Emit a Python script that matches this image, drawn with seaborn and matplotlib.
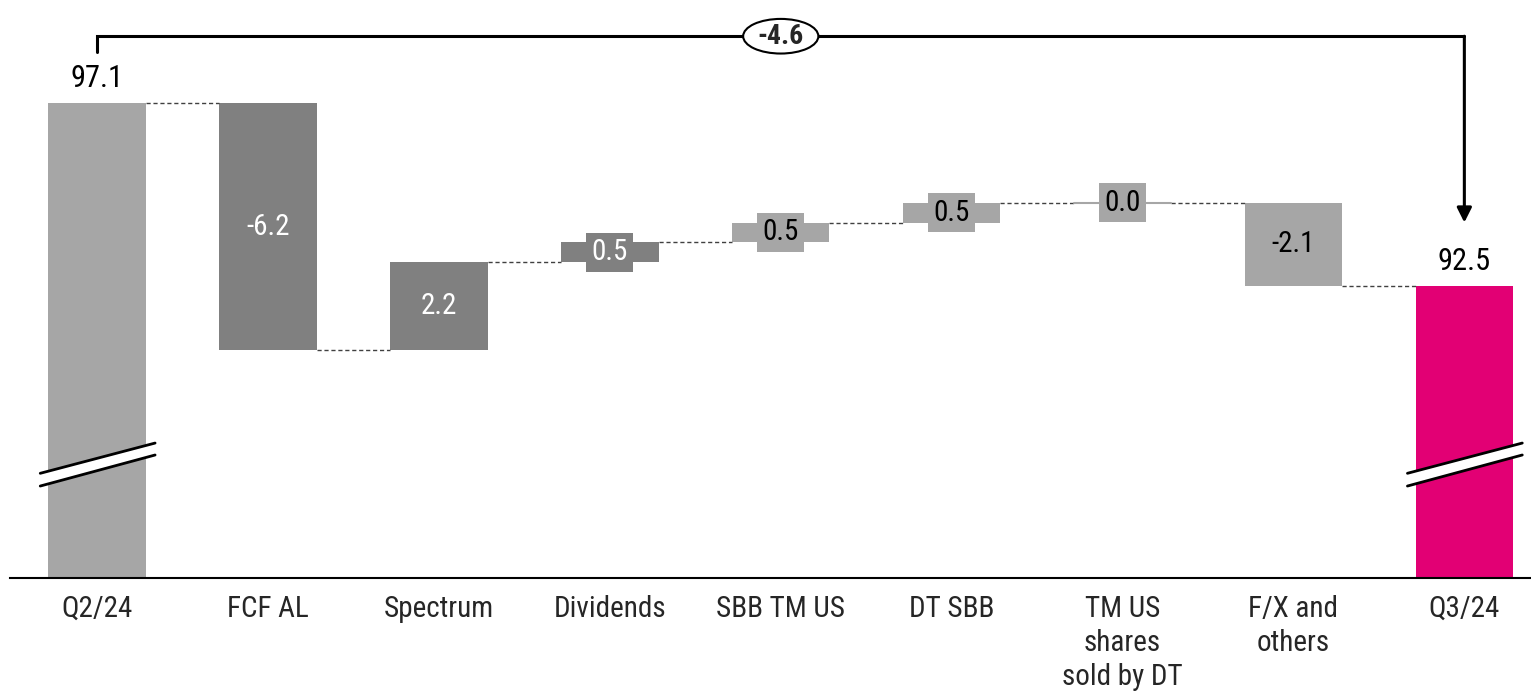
import numpy as np
import matplotlib
matplotlib.use("Agg")
import matplotlib.pyplot as plt
from matplotlib.patches import Ellipse, Polygon
import seaborn as sns

# net debt bridge, EUR bn
categories = ["Q2/24", "FCF AL", "Spectrum", "Dividends", "SBB TM US", "DT SBB",
              "TM US\nshares\nsold by DT", "F/X and\nothers", "Q3/24"]
start_value = 97.1
changes = [-6.2, 2.2, 0.5, 0.5, 0.5, 0.0, -2.1]
end_value = 92.5
total_change = -4.6

LIGHT = "#a6a6a6"
DARK = "#808080"
MAGENTA = "#e20074"
bar_colors = [LIGHT, DARK, DARK, DARK, LIGHT, LIGHT, LIGHT, LIGHT, MAGENTA]
text_colors = ["white", "white", "white", "black", "black", "black", "black"]

sns.set_style("white")
plt.rcParams["font.family"] = ["Roboto Condensed", "Roboto", "DejaVu Sans"]

# build floating bars
levels = start_value + np.cumsum(changes)
prev = np.concatenate([[start_value], levels[:-1]])
bottoms = [0.0] + list(np.minimum(prev, levels)) + [0.0]
heights = [start_value] + list(np.abs(changes)) + [end_value]

fig = plt.figure(figsize=(15.31, 6.94), dpi=100)
ax = fig.add_axes([10 / 1531, 116 / 694, 1521 / 1531, 578 / 694])

w = 0.57
sns.barplot(x=categories, y=heights, bottom=bottoms, color=LIGHT, width=w,
            saturation=1, ax=ax)
for patch, c in zip(ax.patches, bar_colors):
    patch.set_facecolor(c)
    patch.set_edgecolor("none")

ax.set_xlim(-0.51, 8.39)
ax.set_ylim(85.17, 99.69)

# connectors
all_levels = [start_value] + list(levels)
for i, lv in enumerate(all_levels):
    ax.plot([i + w / 2, i + 1 - w / 2], [lv, lv], color="#404040", lw=1,
            ls=(0, (3, 2)), zorder=1)
# zero-height bar
for i, c in enumerate(changes, start=1):
    if c == 0:
        ax.plot([i - w / 2, i + w / 2], [levels[i - 1]] * 2, color=LIGHT, lw=1.5, zorder=2)

# labels on change bars
for i, (c, p, lv, tc) in enumerate(zip(changes, prev, levels, text_colors), start=1):
    ax.text(i, (p + lv) / 2, f"{c:.1f}", ha="center", va="center", fontsize=21,
            color=tc, zorder=5,
            bbox=dict(boxstyle="square,pad=0.18", fc=bar_colors[i], ec="none"))

# labels on totals
for i, v in [(0, start_value), (8, end_value)]:
    ax.annotate(f"{v:.1f}", (i, v), xytext=(0, 7), textcoords="offset points",
                ha="center", va="bottom", fontsize=22, color="black")

# axis breaks
for i in [0, 8]:
    x0, x1 = i - 0.333, i + 0.339
    ax.add_patch(Polygon([[x0, 87.8], [x1, 88.56], [x1, 88.26], [x0, 87.48]],
                         closed=True, fc="white", ec="none", zorder=3))
    ax.plot([x0, x1], [87.8, 88.56], color="black", lw=2, zorder=4)
    ax.plot([x0, x1], [87.48, 88.26], color="black", lw=2, zorder=4)

# overall change bracket
top = 98.78
ax.plot([0, 0, 8], [98.38, top, top], color="black", lw=2.2, clip_on=False, zorder=4,
        solid_joinstyle="miter")
ax.annotate("", xy=(8, 94.1), xytext=(8, top),
            arrowprops=dict(arrowstyle="-|>", color="black", lw=2.2, mutation_scale=22,
                            shrinkA=0, shrinkB=0), zorder=4)
ax.add_patch(Ellipse((4, top), 0.44, 0.87, fc="white", ec="black", lw=1.5, zorder=5,
                     clip_on=False))
ax.text(4, top, f"{total_change:.1f}", ha="center", va="center", fontsize=20,
        fontweight="bold", zorder=6)

# axes styling
sns.despine(ax=ax, left=True)
ax.spines["bottom"].set_color("black")
ax.spines["bottom"].set_linewidth(1.5)
ax.set_yticks([])
ax.set_xlabel("")
ax.set_ylabel("")
ax.set_xticks(range(len(categories)))
ax.set_xticklabels(categories, fontsize=21, linespacing=1.28)
ax.tick_params(axis="x", length=0, pad=12)

fig.savefig("out.png", dpi=100)
